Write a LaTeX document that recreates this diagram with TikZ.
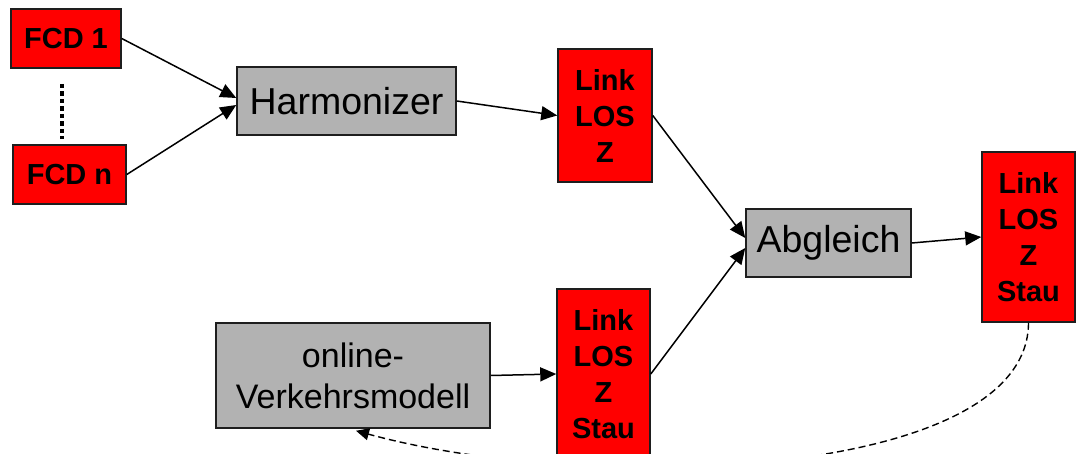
\documentclass[tikz,border=0pt]{standalone}
\usepackage{fontspec}
\setmainfont{Liberation Sans}
\usetikzlibrary{arrows.meta}
\definecolor{boxred}{RGB}{255,0,0}
\definecolor{boxgray}{RGB}{178,178,178}
\definecolor{edgecol}{RGB}{30,30,30}
\begin{document}
\begin{tikzpicture}[x=1pt,y=-1pt,
  redbox/.style={draw=edgecol, line width=1.5pt, fill=boxred, inner sep=0pt, align=center,
    font=\fontsize{29}{36}\selectfont\bfseries},
  graybox/.style={draw=edgecol, line width=1.5pt, fill=boxgray, inner sep=0pt, align=center,
    font=\fontsize{37.5}{41}\selectfont},
  conn/.style={line width=1.5pt, -{Triangle[length=16pt,width=14pt]}},
  feedback/.style={line width=1.4pt, dash pattern=on 7pt off 4pt, -{Triangle[length=13pt,width=12pt]}}
]
\useasboundingbox (0,0) rectangle (1076,454);
\clip (0,0) rectangle (1076,454);
\fill[white] (0,0) rectangle (1076,454);

\node[redbox, minimum width=110pt, minimum height=59pt] (fcd1) at (66,38.5) {FCD 1};
\node[redbox, minimum width=113pt, minimum height=59pt] (fcdn) at (69.5,174.5) {FCD n};
\coordinate (dtop) at (62,84);
\coordinate (dbot) at (62,139);
\draw[line width=4.5pt, dash pattern=on 4.5pt off 3pt] (dtop) -- (dbot);

\node[graybox, minimum width=219pt, minimum height=68pt] (harm) at (346.5,101) {Harmonizer};
\node[redbox, minimum width=94pt, minimum height=133pt] (link1) at (605,115.5) {Link\\LOS\\Z};
\node[graybox, minimum width=165pt, minimum height=68pt] (abg) at (828.5,243) {Abgleich};
\node[redbox, minimum width=93pt, minimum height=170pt] (link3) at (1028.5,237) {Link\\LOS\\Z\\Stau};
\node[graybox, minimum width=274pt, minimum height=105pt,
  font=\fontsize{34}{41}\selectfont] (vm) at (353,375.5) {online-\\Verkehrsmodell};
\node[redbox, minimum width=93pt, minimum height=170pt] (link2) at (603.5,374) {Link\\LOS\\Z\\Stau};

\draw[conn] (fcd1.east) -- ([yshift=3pt]harm.west);
\draw[conn] (fcdn.east) -- ([yshift=-4pt]harm.west);
\draw[conn] (harm.east) -- (link1.west);
\draw[conn] (link1.east) -- ([yshift=5pt]abg.west);
\draw[conn] (link2.east) -- ([yshift=-5pt]abg.west);
\draw[conn] (abg.east) -- (link3.west);
\draw[conn] (vm.east) -- (link2.west);
\draw[feedback] (link3.south) .. controls (1028,480) and (590,495) .. ([xshift=3pt,yshift=-2pt]vm.south);
\end{tikzpicture}
\end{document}
